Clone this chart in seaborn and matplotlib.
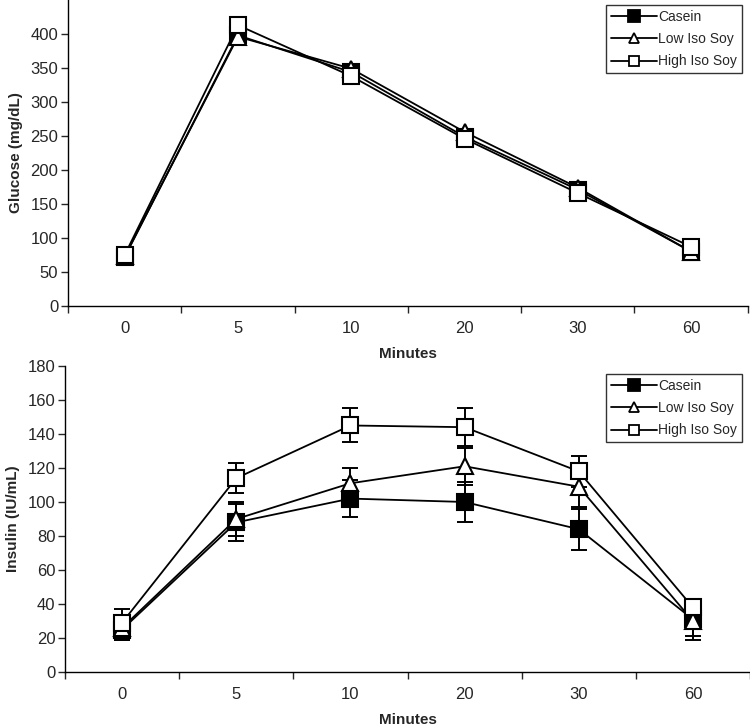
import numpy as np
import pandas as pd
import matplotlib
matplotlib.use("Agg")
import matplotlib.pyplot as plt
import seaborn as sns
from matplotlib.lines import Line2D

minutes = ["0", "5", "10", "20", "30", "60"]
groups = ["Casein", "Low Iso Soy", "High Iso Soy"]

glucose_casein = [72, 398, 344, 249, 171, 80]
glucose_low = [73, 396, 349, 256, 174, 80]
glucose_high = [75, 413, 338, 246, 166, 87]

insulin_casein = [25, 88, 102, 100, 84, 31]
insulin_low = [26, 90, 111, 121, 109, 30]
insulin_high = [29, 114, 145, 144, 118, 38]
insulin_casein_err = [6, 11, 11, 12, 12, 12]
insulin_low_err = [7, 10, 9, 11, 12, 9]
insulin_high_err = [8, 9, 10, 11, 9, 5]

sns.set_style("ticks")
plt.rcParams["font.family"] = ["Liberation Sans", "DejaVu Sans"]

styles = {
    "Casein": dict(marker="s", mfc="black"),
    "Low Iso Soy": dict(marker="^", mfc="white"),
    "High Iso Soy": dict(marker="s", mfc="white"),
}

fig = plt.figure(figsize=(7.5, 7.28), dpi=100)
ax1 = fig.add_axes([0.0907, 0.5797, 0.9063, 0.4203])
ax2 = fig.add_axes([0.0867, 0.0769, 0.9133, 0.4204])

def build(vals_list, errs_list=None):
    rows = []
    for gi, g in enumerate(groups):
        for i, m in enumerate(minutes):
            r = dict(group=g, pos=i, value=vals_list[gi][i])
            if errs_list is not None:
                r["err"] = errs_list[gi][i]
            rows.append(r)
    return pd.DataFrame(rows)

df_g = build([glucose_casein, glucose_low, glucose_high])
df_i = build([insulin_casein, insulin_low, insulin_high],
             [insulin_casein_err, insulin_low_err, insulin_high_err])

def draw(ax, df, errs):
    for g in groups:
        sub = df[df.group == g]
        st = styles[g]
        if errs:
            ax.errorbar(sub.pos, sub.value, yerr=sub.err, fmt="none",
                        ecolor="black", elinewidth=1.4, capsize=6,
                        capthick=1.4, zorder=2)
        sns.lineplot(data=sub, x="pos", y="value", ax=ax, color="black",
                     linewidth=1.3, marker=st["marker"], markersize=11,
                     markerfacecolor=st["mfc"], markeredgecolor="black",
                     markeredgewidth=1.5, legend=False, zorder=3)

draw(ax1, df_g, False)
draw(ax2, df_i, True)

def style(ax, ylim, yticks, ylabel, anchor):
    ax.set_xlim(-0.5, len(minutes) - 0.5)
    ax.set_ylim(*ylim)
    ax.set_yticks(yticks)
    ax.set_xticks(np.arange(-0.5, len(minutes)), labels=[""] * (len(minutes) + 1))
    ax.set_xticks(np.arange(len(minutes)), labels=minutes, minor=True)
    ax.tick_params(axis="x", which="major", length=5, width=1, direction="out")
    ax.tick_params(axis="x", which="minor", length=0, pad=11, labelsize=12)
    ax.tick_params(axis="y", length=5, width=1, labelsize=12, pad=2)
    for s in ["top", "right"]:
        ax.spines[s].set_visible(False)
    for s in ["left", "bottom"]:
        ax.spines[s].set_linewidth(1)
        ax.spines[s].set_color("black")
    ax.set_ylabel(ylabel, fontsize=11, fontweight="bold", labelpad=5)
    ax.set_xlabel("Minutes", fontsize=11, fontweight="bold", labelpad=8)
    handles = [Line2D([], [], color="black", linewidth=1.3,
                      marker=styles[g]["marker"], markersize=9 if g == "Casein" else 7,
                      markerfacecolor=styles[g]["mfc"], markeredgecolor="black",
                      markeredgewidth=1.3) for g in groups]
    leg = ax.legend(handles, groups, loc="upper right", bbox_to_anchor=anchor,
                    frameon=True, fancybox=False, fontsize=10, handlelength=3.3,
                    handletextpad=0.1, borderpad=0.35, labelspacing=0.6,
                    borderaxespad=0.0)
    leg.get_frame().set_edgecolor("black")
    leg.get_frame().set_linewidth(1)

style(ax1, (0, 450), np.arange(0, 401, 50), "Glucose (mg/dL)", (0.991, 0.984))
style(ax2, (0, 180), np.arange(0, 181, 20), "Insulin (IU/mL)", (0.988, 0.974))

fig.savefig("out.png", dpi=100)
